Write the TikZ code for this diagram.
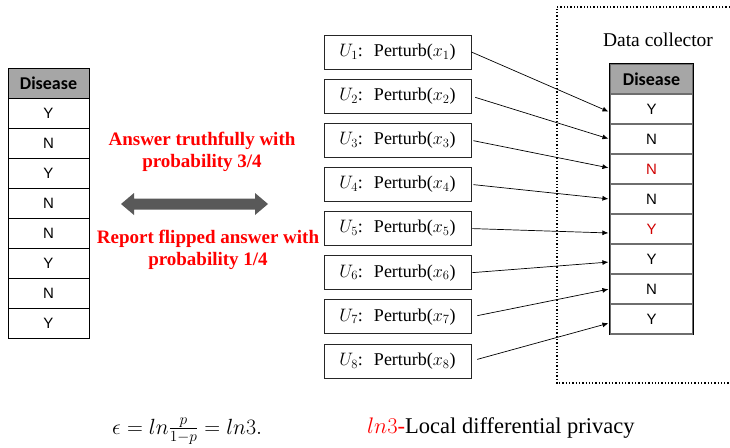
\RequirePackage{fix-cm}
\documentclass[tikz,border=0pt]{standalone}
\usepackage{fontspec}
\setmainfont{Liberation Serif}
\newfontfamily\cellfont{Liberation Sans}
\newfontfamily\headfont{Carlito}
\usetikzlibrary{arrows.meta}
\definecolor{hdrgray}{HTML}{A6A6A6}
\definecolor{flipred}{HTML}{D00000}
\definecolor{arrgray}{HTML}{595959}
\definecolor{rulegray}{HTML}{6E6E6E}

\begin{document}
\begin{tikzpicture}[x=1pt,y=-1pt,
  cell/.style={draw=black, line width=0.8pt, minimum width=81pt, minimum height=30pt,
    inner sep=0pt, font=\cellfont\fontsize{15}{17}\selectfont},
  head/.style={cell, fill=hdrgray, font=\headfont\bfseries\fontsize{18}{20}\selectfont},
  rcell/.style={cell, draw=rulegray, line width=1.2pt, minimum width=83pt},
  rhead/.style={rcell, fill=hdrgray, font=\headfont\bfseries\fontsize{18}{20}\selectfont},
  user/.style={draw=black!85, line width=0.8pt, minimum width=147pt, minimum height=34pt,
    inner sep=0pt, font=\fontsize{18}{20}\selectfont},
  note/.style={text=red, font=\bfseries\fontsize{19}{21.5}\selectfont, align=center},
  link/.style={-{Latex[length=6pt,width=5pt]}, line width=0.7pt, shorten >=1pt},
]
\useasboundingbox (0,0) rectangle (730,447);

% original records
\node[head] (lh) at (48.5,83) {Disease};
\foreach \v [count=\i] in {Y,N,Y,N,N,Y,N,Y}
  \node[cell] (l\i) at (48.5,{83+30*\i}) {\v};

% randomized response rule
\node[note] (truth) at (202,152) {Answer truthfully with\\probability 3/4};
\fill[arrgray] (121,204) -- (134,193) -- (134,198.5) -- (255,198.5) -- (255,193)
  -- (268,204) -- (255,215) -- (255,209.5) -- (134,209.5) -- (134,215) -- cycle;
\node[note] (flip) at (208,250) {Report flipped answer with\\probability 1/4};

% users perturbing their values
\foreach \i in {1,...,8}
  \node[user] (u\i) at (397.5,{52+44.14*(\i-1)}) {$U_{\i}$:\; Perturb($x_{\i}$)};

% data collector area
\coordinate (dtr) at (730,7);
\coordinate (dtl) at (557,7);
\coordinate (dbl) at (557,383);
\coordinate (dbr) at (730,383);
\draw[dotted, line width=1.3pt] (dtr) -- (dtl) -- (dbl) -- (dbr);
\node (dc) at (658,40) {\fontsize{19.5}{22}\selectfont Data collector};

% collected (perturbed) records
\node[rhead] (rh) at (651.5,79) {Disease};
\foreach \v/\c [count=\i] in {Y/black,N/black,N/flipred,N/black,Y/flipred,Y/black,N/black,Y/black}
  \node[rcell, text=\c] (r\i) at (651.5,{79+30*\i}) {\v};
\draw[line width=1pt] (rh.north west) -- (r8.south west);
\draw[line width=1pt] (rh.north east) -- (r8.south east);
\draw[line width=1pt] (rh.north west) -- (rh.north east);

% reports sent to the collector
\foreach \i/\dy/\s in {1/-3/0,2/0/4,3/1/2,4/0/2,5/-4/1,6/-3/1,7/0/6,8/-4/6}
  \draw[link, shorten <=\s pt] (u\i.east) -- ([yshift=\dy pt]r\i.west);

% privacy level
\node[anchor=base west, inner sep=0pt] (eps) at (112,434)
  {\fontsize{22}{26}\selectfont $\epsilon = ln\frac{p}{1-p} = ln3.$};
\node[anchor=base west, inner sep=0pt] (ldp) at (367,433)
  {\fontsize{22.5}{26}\selectfont\textcolor{red}{$ln3$-}Local differential privacy};
\end{tikzpicture}
\end{document}
